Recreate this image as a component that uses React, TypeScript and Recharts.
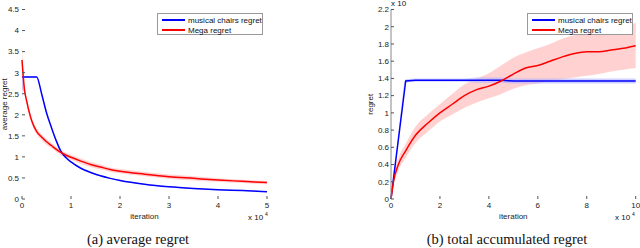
import { Area, ComposedChart, Label, Line, XAxis, YAxis } from "recharts";

// (a) average regret, x in units of 10^4 iterations
const avgIter = [0, 0.05, 0.1, 0.15, 0.2, 0.3, 0.4, 0.5, 0.6, 0.7, 0.8, 0.9, 1.0, 1.2, 1.4, 1.6, 1.8, 2.0, 2.5, 3, 3.5, 4, 4.5, 5];
const avgChairs = [2.9, 2.9, 2.9, 2.9, 2.9, 2.9, 2.5, 2.05, 1.7, 1.38, 1.12, 0.98, 0.88, 0.73, 0.63, 0.55, 0.49, 0.44, 0.35, 0.29, 0.25, 0.22, 0.2, 0.175];
const avgChairsLow = [2.4, 2.88, 2.88, 2.88, 2.88, 2.88, 2.48, 2.03, 1.68, 1.36, 1.1, 0.96, 0.87, 0.72, 0.62, 0.54, 0.48, 0.43, 0.34, 0.28, 0.24, 0.21, 0.19, 0.165];
const avgChairsHigh = [2.9, 2.92, 2.92, 2.92, 2.92, 2.92, 2.52, 2.07, 1.72, 1.4, 1.14, 1.0, 0.89, 0.74, 0.64, 0.56, 0.5, 0.45, 0.36, 0.3, 0.26, 0.23, 0.21, 0.185];
const avgMega = [3.3, 2.6, 2.3, 2.05, 1.85, 1.6, 1.47, 1.36, 1.27, 1.18, 1.1, 1.04, 0.99, 0.9, 0.82, 0.76, 0.7, 0.66, 0.59, 0.53, 0.49, 0.45, 0.42, 0.39];
const avgMegaLow = [2.6, 2.5, 2.22, 1.98, 1.78, 1.53, 1.4, 1.29, 1.21, 1.12, 1.04, 0.98, 0.93, 0.84, 0.76, 0.7, 0.65, 0.61, 0.54, 0.48, 0.44, 0.41, 0.38, 0.35];
const avgMegaHigh = [3.6, 2.7, 2.38, 2.12, 1.92, 1.67, 1.54, 1.43, 1.33, 1.24, 1.16, 1.1, 1.05, 0.96, 0.88, 0.82, 0.75, 0.71, 0.64, 0.58, 0.54, 0.49, 0.46, 0.43];
const avgYTicks = [0, 0.5, 1, 1.5, 2, 2.5, 3, 3.5, 4, 4.5];
const avgXTicks = [0, 1, 2, 3, 4, 5];

// (b) total accumulated regret
const totIter = [0, 0.1, 0.3, 0.6, 1, 1.5, 2, 2.5, 3, 3.5, 4, 4.5, 5, 5.5, 6, 6.5, 7, 7.5, 8, 8.5, 9, 9.5, 10];
const totChairs = [0, 0.23, 0.69, 1.37, 1.38, 1.38, 1.38, 1.38, 1.38, 1.38, 1.38, 1.38, 1.37, 1.37, 1.37, 1.37, 1.37, 1.37, 1.37, 1.37, 1.37, 1.37, 1.37];
const totChairsLow = [0, 0.2, 0.66, 1.35, 1.36, 1.36, 1.36, 1.36, 1.36, 1.35, 1.35, 1.35, 1.34, 1.34, 1.34, 1.34, 1.34, 1.34, 1.34, 1.34, 1.34, 1.34, 1.34];
const totChairsHigh = [0, 0.26, 0.72, 1.39, 1.4, 1.4, 1.4, 1.4, 1.4, 1.41, 1.41, 1.41, 1.4, 1.4, 1.4, 1.4, 1.4, 1.4, 1.4, 1.4, 1.4, 1.4, 1.4];
const totMega = [0, 0.2, 0.4, 0.56, 0.74, 0.88, 1.0, 1.1, 1.2, 1.27, 1.31, 1.37, 1.45, 1.52, 1.55, 1.6, 1.65, 1.69, 1.71, 1.71, 1.73, 1.75, 1.78];
const totMegaLow = [0, 0.15, 0.33, 0.48, 0.65, 0.78, 0.9, 0.98, 1.06, 1.12, 1.17, 1.22, 1.28, 1.32, 1.34, 1.37, 1.39, 1.41, 1.43, 1.45, 1.48, 1.5, 1.52];
const totMegaHigh = [0, 0.25, 0.47, 0.64, 0.84, 0.98, 1.1, 1.22, 1.33, 1.4, 1.46, 1.55, 1.64, 1.7, 1.75, 1.8, 1.86, 1.9, 1.92, 1.93, 1.95, 1.98, 2.05];
const totYTicks = [0, 0.2, 0.4, 0.6, 0.8, 1, 1.2, 1.4, 1.6, 1.8, 2, 2.2];
const totXTicks = [0, 2, 4, 6, 8, 10];

const seriesNames = ["musical chairs regret", "Mega regret"];
const seriesColors = ["#0000ff", "#ff0000"];

const avgData = avgIter.map((x, i) => ({
    x,
    chairs: avgChairs[i],
    chairsBand: [avgChairsLow[i], avgChairsHigh[i]],
    mega: avgMega[i],
    megaBand: [avgMegaLow[i], avgMegaHigh[i]],
}));

const totData = totIter.map((x, i) => ({
    x,
    chairs: totChairs[i],
    chairsBand: [totChairsLow[i], totChairsHigh[i]],
    mega: totMega[i],
    megaBand: [totMegaLow[i], totMegaHigh[i]],
}));

const font = "'Liberation Sans', Arial, sans-serif";
const tickStyle = { fontSize: 8, fill: "#222", fontFamily: font };

function LegendBox({ left }: { left: number }) {
    return (
        <div style={{ position: "absolute", left, top: 13, width: 106, height: 22, background: "#fff", border: "1px solid #999", boxSizing: "border-box" }}>
            {seriesNames.map((n, i) => (
                <div key={n} style={{ position: "absolute", left: 4, top: 1 + i * 10, height: 10, display: "flex", alignItems: "center" }}>
                    <div style={{ width: 23, height: 2, background: seriesColors[i] }} />
                    <span style={{ marginLeft: 3, fontSize: 8, fontFamily: font, color: "#111", whiteSpace: "nowrap" }}>{n}</span>
                </div>
            ))}
        </div>
    );
}

function Txt({ x, y, size = 8, serif = false, w, children }: { x: number; y: number; size?: number; serif?: boolean; w?: number; children: any }) {
    return (
        <div style={{ position: "absolute", left: x, top: y, width: w, textAlign: w ? "center" : "left", fontSize: size, lineHeight: 1, whiteSpace: "nowrap", color: "#111", fontFamily: serif ? "'Liberation Serif', 'DejaVu Serif', serif" : font }}>
            {children}
        </div>
    );
}

export default function App() {
    return (
        <div style={{ position: "absolute", left: 0, top: 0, width: 640, height: 248, background: "#fff", overflow: "hidden" }}>
            <div style={{ position: "absolute", left: 0, top: 0 }}>
                <ComposedChart width={320} height={248} data={avgData} margin={{ top: 9.5, right: 53, bottom: 29, left: 0 }}>
                    <XAxis dataKey="x" type="number" domain={[0, 5]} ticks={avgXTicks} axisLine={false} tickSize={-3} tickMargin={6} tick={tickStyle} tickLine={{ stroke: "#555" }} height={20} interval={0}>
                        <Label value="iteration" position="insideBottom" offset={0} style={{ fontSize: 8, fill: "#222", fontFamily: font }} />
                    </XAxis>
                    <XAxis xAxisId="top" orientation="top" dataKey="x" type="number" domain={[0, 5]} ticks={avgXTicks} axisLine={{ stroke: "#777" }} tickSize={-3} tick={false} tickLine={{ stroke: "#555" }} height={0} />
                    <YAxis type="number" domain={[0, 4.5]} ticks={avgYTicks} axisLine={false} tickSize={-3} tickMargin={6} tick={tickStyle} tickLine={{ stroke: "#555" }} width={22} interval={0}>
                        <Label value="average regret" position="insideLeft" angle={-90} offset={4} style={{ fontSize: 8, fill: "#222", fontFamily: font, textAnchor: "middle" }} />
                    </YAxis>
                    <YAxis yAxisId="right" orientation="right" type="number" domain={[0, 4.5]} ticks={avgYTicks} axisLine={false} tickSize={-3} tick={false} tickLine={{ stroke: "#555" }} width={0} />
                    <Area dataKey="megaBand" stroke="none" fill="#ffb3b3" fillOpacity={0.6} type="monotone" isAnimationActive={false} />
                    <Area dataKey="chairsBand" stroke="none" fill="#b3b3ff" fillOpacity={0.6} type="monotone" isAnimationActive={false} />
                    <Line dataKey="chairs" stroke={seriesColors[0]} strokeWidth={1.5} dot={false} type="monotone" isAnimationActive={false} />
                    <Line dataKey="mega" stroke={seriesColors[1]} strokeWidth={1.5} dot={false} type="monotone" isAnimationActive={false} />
                </ComposedChart>
            </div>
            <div style={{ position: "absolute", left: 320, top: 0 }}>
                <ComposedChart width={320} height={248} data={totData} margin={{ top: 9.5, right: 4.3, bottom: 29, left: 0 }}>
                    <XAxis dataKey="x" type="number" domain={[0, 10]} ticks={totXTicks} axisLine={false} tickSize={-3} tickMargin={6} tick={tickStyle} tickLine={{ stroke: "#555" }} height={20} interval={0}>
                        <Label value="iteration" position="insideBottom" offset={0} style={{ fontSize: 8, fill: "#222", fontFamily: font }} />
                    </XAxis>
                    <XAxis xAxisId="top" orientation="top" dataKey="x" type="number" domain={[0, 10]} ticks={totXTicks} axisLine={{ stroke: "#777" }} tickSize={-3} tick={false} tickLine={{ stroke: "#555" }} height={0} />
                    <YAxis type="number" domain={[0, 2.2]} ticks={totYTicks} axisLine={{ stroke: "#888" }} tickSize={-3} tickMargin={5} tick={tickStyle} tickLine={{ stroke: "#555" }} width={71} interval={0}>
                        <Label value="regret" position="insideLeft" angle={-90} offset={50} style={{ fontSize: 8, fill: "#222", fontFamily: font, textAnchor: "middle" }} />
                    </YAxis>
                    <YAxis yAxisId="right" orientation="right" type="number" domain={[0, 2.2]} ticks={totYTicks} axisLine={{ stroke: "#888" }} tickSize={-3} tick={false} tickLine={{ stroke: "#555" }} width={0} />
                    <Area dataKey="megaBand" stroke="none" fill="#ffb3b3" fillOpacity={0.6} type="monotone" isAnimationActive={false} />
                    <Area dataKey="chairsBand" stroke="none" fill="#b3b3ff" fillOpacity={0.6} type="monotone" isAnimationActive={false} />
                    <Line dataKey="chairs" stroke={seriesColors[0]} strokeWidth={1.5} dot={false} type="linear" isAnimationActive={false} />
                    <Line dataKey="mega" stroke={seriesColors[1]} strokeWidth={1.5} dot={false} type="monotone" isAnimationActive={false} />
                </ComposedChart>
            </div>
            <LegendBox left={157} />
            <LegendBox left={527} />
            <Txt x={248} y={214}>x 10</Txt>
            <Txt x={265} y={212} size={5}>4</Txt>
            <Txt x={615} y={214}>x 10</Txt>
            <Txt x={632} y={212} size={5}>4</Txt>
            <Txt x={391} y={0}>x 10</Txt>
            <Txt x={38} y={232} w={200} size={14.5} serif>(a) average regret</Txt>
            <Txt x={407} y={232} w={200} size={14.5} serif>(b) total accumulated regret</Txt>
        </div>
    );
}
